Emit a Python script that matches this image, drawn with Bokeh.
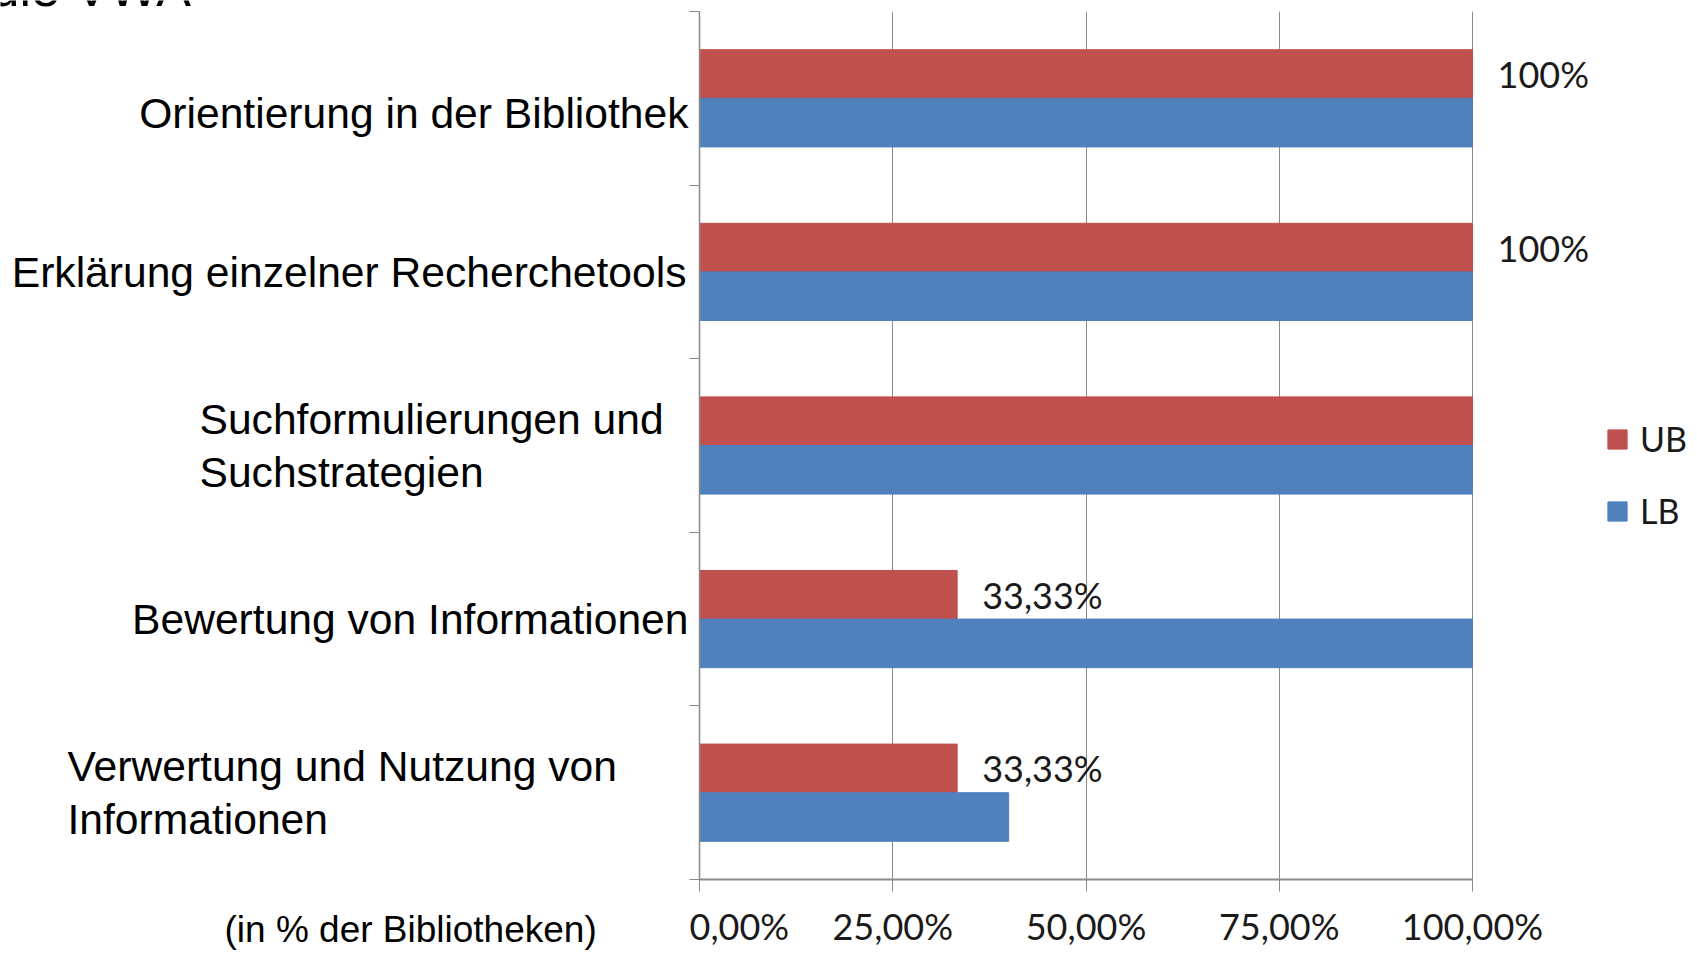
from bokeh.plotting import figure
from bokeh.layouts import row
from bokeh.models import (ColumnDataSource, Range1d, FixedTicker, LabelSet,
                          Legend, LegendItem)
from bokeh.core.properties import value
from bokeh.embed import file_html
from bokeh.resources import INLINE

# ---- data -------------------------------------------------------------
categories = [
    "Orientierung in der Bibliothek",
    "Erklärung einzelner Recherchetools",
    "Suchformulierungen und\nSuchstrategien",
    "Bewertung von Informationen",
    "Verwertung und Nutzung von\nInformationen",
]
ub_values = [100, 100, 100, 33.33, 33.33]
lb_values = [100, 100, 100, 100, 40]
ub_labels = ["100%", "100%", "", "33,33%", "33,33%"]
x_ticks = [0, 25, 50, 75, 100]
x_tick_labels = ["0,00%", "25,00%", "50,00%", "75,00%", "100,00%"]
series_names = ["UB", "LB"]
colors = ["#C0504D", "#4F81BD"]
axis_note = "(in % der Bibliotheken)"
top_title = "die VWA"          # heading, cut off at the top edge in the original

# ---- layout styles ----------------------------------------------------
W, H = 1689, 950
LEFT, TOP, BOTTOM = 699, 11, 71
AXIS_BORDER = 10                 # space for the left axis ticks
FRAME_H = H - TOP - BOTTOM
n = len(categories)
PX_PER_CAT = FRAME_H / n
PX_PER_UNIT = 7.73
LW = LEFT - AXIS_BORDER          # width of the text panel
MW = W - LW                      # width of the chart panel
x_end = (MW - AXIS_BORDER) / PX_PER_UNIT
dodge = 0.14
bar_h = 0.28

centers = [i + 0.5 for i in range(n)]
src = ColumnDataSource(dict(
    y_ub=[c - dodge for c in centers],
    y_lb=[c + dodge for c in centers],
    ub=ub_values,
    lb=lb_values,
    lab=ub_labels,
))

# ---- chart panel --------------------------------------------------------
p = figure(width=MW, height=H, output_backend="svg", toolbar_location=None,
           x_range=Range1d(0, x_end), y_range=Range1d(n, 0),
           min_border_left=AXIS_BORDER, min_border_right=0,
           min_border_top=TOP, min_border_bottom=BOTTOM)
p.outline_line_color = None
p.frame_align = False

r_ub = p.hbar(y="y_ub", left=0, right="ub", height=bar_h, source=src,
              fill_color=colors[0], line_color=colors[0])
r_lb = p.hbar(y="y_lb", left=0, right="lb", height=bar_h, source=src,
              fill_color=colors[1], line_color=colors[1])

xa = p.xaxis[0]
xa.ticker = FixedTicker(ticks=x_ticks)
xa.bounds = (0, 100)
xa.major_label_overrides = {t: s for t, s in zip(x_ticks, x_tick_labels)}
xa.axis_line_color = "#8a8a8a"
xa.axis_line_width = 2
xa.major_tick_line_color = "#8a8a8a"
xa.major_tick_in = 0
xa.major_tick_out = 12
xa.minor_tick_line_color = None
xa.major_label_text_font = "Lato"
xa.major_label_text_font_size = "36px"
xa.major_label_text_color = "#1a1a1a"
xa.major_label_standoff = 12

ya = p.yaxis[0]
ya.ticker = FixedTicker(ticks=list(range(n + 1)))
ya.major_label_overrides = {i: "" for i in range(n + 1)}
ya.axis_line_color = "#8a8a8a"
ya.axis_line_width = 1.5
ya.major_tick_line_color = "#8a8a8a"
ya.major_tick_in = 0
ya.major_tick_out = 10
ya.major_label_standoff = 0
ya.minor_tick_line_color = None

p.xgrid.ticker = FixedTicker(ticks=x_ticks)
p.xgrid.grid_line_color = "#8a8a8a"
p.xgrid.grid_line_width = 1
p.ygrid.grid_line_color = None

p.add_layout(LabelSet(x="ub", y="y_ub", text="lab", source=src, x_offset=25,
                      text_align="left", text_baseline="middle",
                      text_font=value("Lato"), text_font_size="36px",
                      text_color="#1a1a1a"))

legend = Legend(items=[LegendItem(label=series_names[0], renderers=[r_ub]),
                       LegendItem(label=series_names[1], renderers=[r_lb])],
                location=(906, 348), orientation="vertical",
                glyph_width=24, glyph_height=24, label_standoff=11,
                spacing=31, padding=0, margin=0,
                label_text_font="Lato", label_text_font_size="34px",
                label_text_color="#1a1a1a",
                background_fill_alpha=0, border_line_color=None)
p.add_layout(legend, "center")

# ---- text panel (category labels, free text boxes) -----------------------
cat_x = [LW - 1, 686, 199, LW - 1, 67]
cat_align = ["right", "right", "left", "right", "left"]
cat_y = [centers[0] + 15 / PX_PER_CAT] + centers[1:]
note_x, note_y = 224, (929 - TOP) / PX_PER_CAT
title_x, title_y = -10, (-13 - TOP) / PX_PER_CAT

t = figure(width=LW, height=H, output_backend="svg", toolbar_location=None,
           x_range=Range1d(0, LW),
           y_range=Range1d((H - TOP) / PX_PER_CAT, -TOP / PX_PER_CAT),
           min_border_left=0, min_border_right=0,
           min_border_top=0, min_border_bottom=0,
           x_axis_location=None, y_axis_location=None)
t.outline_line_color = None
t.frame_align = False
t.xgrid.visible = False
t.ygrid.visible = False

tsrc = ColumnDataSource(dict(x=cat_x, y=cat_y, text=categories, align=cat_align))
t.text(x="x", y="y", text="text", source=tsrc, text_align="align",
       text_baseline="middle", text_font=value("Liberation Sans"),
       text_font_size="42.6px", text_color="black", text_line_height=1.1)
t.text(x=[note_x], y=[note_y], text=[axis_note], text_align="left",
       text_baseline="middle", text_font=value("Liberation Sans"),
       text_font_size="37px", text_color="black")
t.text(x=[title_x], y=[title_y], text=[top_title], text_align="left",
       text_baseline="alphabetic", text_font=value("Liberation Sans"),
       text_font_size="52px", text_color="black")

layout = row(t, p, spacing=0)
open("out.html", "w").write(file_html(layout, INLINE))
